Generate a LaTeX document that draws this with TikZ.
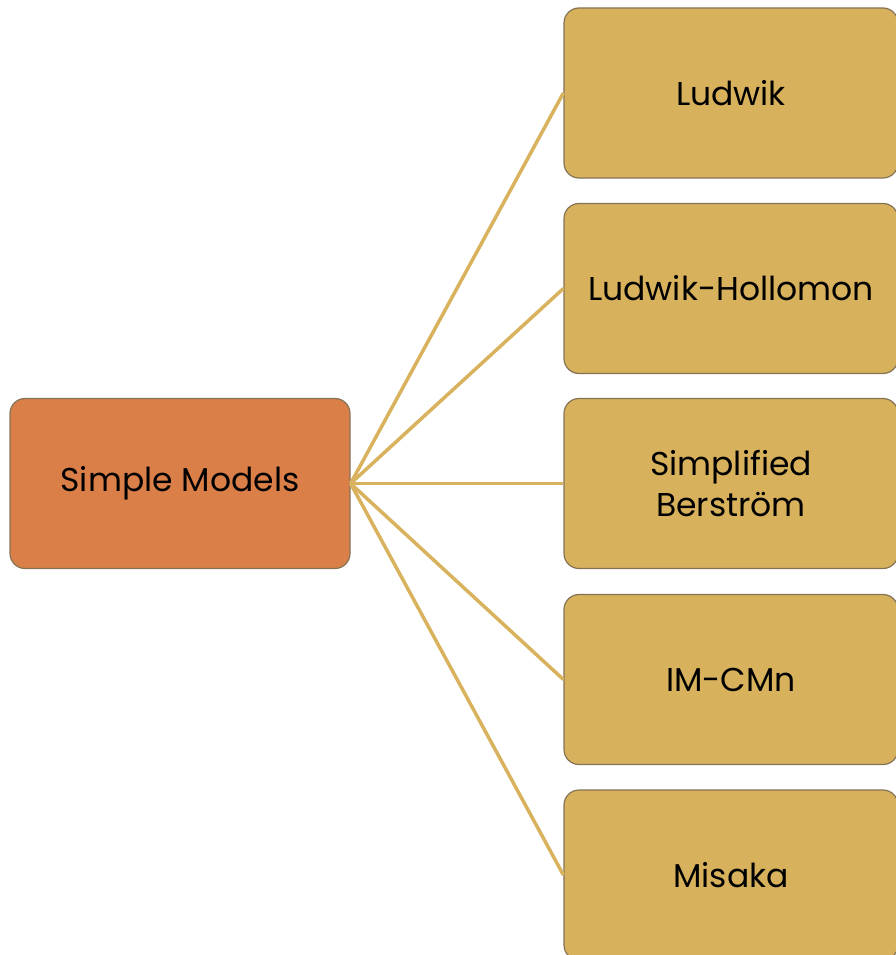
\documentclass[tikz,border=0pt]{standalone}
\usepackage{fontspec}
\setmainfont{Poppins}
\definecolor{leftfill}{HTML}{DB7F48}
\definecolor{rightfill}{HTML}{D7B15B}
\definecolor{boxline}{HTML}{857355}
\definecolor{linkcol}{HTML}{D9B25D}
\tikzset{
  box/.style={draw=boxline, line width=1.2pt, rounded corners=15pt, minimum width=334pt, minimum height=170pt, inner sep=0pt, align=center, font=\fontsize{33}{41}\selectfont, text=black},
  lbox/.style={box, fill=leftfill, minimum width=340pt},
  rbox/.style={box, fill=rightfill},
  link/.style={draw=linkcol, line width=3.5pt}
}
\begin{document}
\begin{tikzpicture}[x=1pt,y=-1pt]
\useasboundingbox (0,0) rectangle (895,955);
\node[lbox] (root) at (180,483.5) {Simple Models};
\node[rbox] (a) at (731,93) {Ludwik};
\node[rbox] (b) at (731,288.5) {Ludwik-Hollomon};
\node[rbox] (c) at (731,483.5) {Simplified\\Berström};
\node[rbox] (d) at (731,679.5) {IM-CMn};
\node[rbox] (e) at (731,875) {Misaka};
\foreach \t in {a,b,c,d,e} \draw[link] (root.east) -- (\t.west);
\end{tikzpicture}
\end{document}
